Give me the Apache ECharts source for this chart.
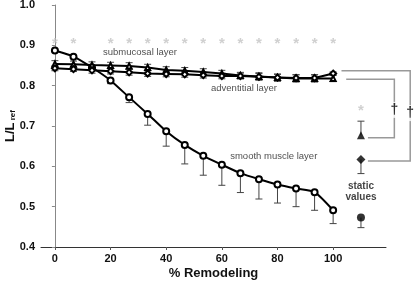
<!DOCTYPE html>
<html><head><meta charset="utf-8">
<script src="https://cdn.jsdelivr.net/npm/echarts@6/dist/echarts.min.js"></script>
<style>html,body{margin:0;padding:0;background:#fff}#c{width:414px;height:281px}</style>
</head><body><div id="c"></div>
<script>
// ---- data ----
const remodeling = [0, 6.67, 13.33, 20, 26.67, 33.33, 40, 46.67, 53.33, 60, 66.67, 73.33, 80, 86.67, 93.33, 100];
const smoothMuscle = [0.887, 0.872, 0.845, 0.813, 0.771, 0.730, 0.687, 0.653, 0.626, 0.604, 0.583, 0.568, 0.555, 0.545, 0.536, 0.491];
const smoothMuscleLow = [0.884, 0.869, 0.839, 0.805, 0.758, 0.702, 0.650, 0.606, 0.578, 0.553, 0.535, 0.519, 0.509, 0.500, 0.491, 0.458];
const submucosal = [0.854, 0.853, 0.851, 0.850, 0.849, 0.845, 0.839, 0.837, 0.834, 0.830, 0.825, 0.823, 0.820, 0.818, 0.818, 0.818];
const submucosalErr = [0.008, 0.008, 0.008, 0.008, 0.008, 0.008, 0.008, 0.008, 0.008, 0.008, 0.008, 0.009, 0.009, 0.009, 0.009, 0.008];
const adventitial = [0.843, 0.841, 0.838, 0.836, 0.833, 0.830, 0.829, 0.828, 0.826, 0.824, 0.824, 0.822, 0.820, 0.819, 0.819, 0.830];
const adventitialErr = [0.006, 0.006, 0.007, 0.007, 0.007, 0.007, 0.007, 0.007, 0.007, 0.007, 0.007, 0.008, 0.008, 0.008, 0.008, 0.004];
const starX = [0, 6.67, 20, 26.67, 33.33, 40, 46.67, 53.33, 60, 66.67, 73.33, 80, 86.67, 93.33, 100];
const starY = 0.913;
const staticX = 110;
const staticStarY = 0.747;
const staticTriangle = 0.677, staticTriangleHigh = 0.712;
const staticDiamond = 0.617, staticDiamondLow = 0.582;
const staticCircle = 0.473, staticCircleLow = 0.448;
const bracketOuter = [[103, 0.837], [127.7, 0.837], [127.7, 0.613], [112.5, 0.613]];
const bracketInner = [[104.7, 0.816], [122, 0.816], [122, 0.671], [112.5, 0.671]];
const daggers = [[122, 0.740], [127.7, 0.732]];
const xTicks = [0, 20, 40, 60, 80, 100];

const pair = (xs, ys) => xs.map((x, i) => [x, ys[i]]);

function errRender(capW) {
  return function (params, api) {
    const x = api.value(0), lo = api.value(1), hi = api.value(2);
    const pLo = api.coord([x, lo]), pHi = api.coord([x, hi]);
    const st = { stroke: '#444', lineWidth: 1 };
    const ch = [{ type: 'line', shape: { x1: pLo[0], y1: pLo[1], x2: pHi[0], y2: pHi[1] }, style: st }];
    if (api.value(3) & 1) ch.push({ type: 'line', shape: { x1: pLo[0] - capW, y1: pLo[1], x2: pLo[0] + capW, y2: pLo[1] }, style: st });
    if (api.value(3) & 2) ch.push({ type: 'line', shape: { x1: pHi[0] - capW, y1: pHi[1], x2: pHi[0] + capW, y2: pHi[1] }, style: st });
    return { type: 'group', children: ch };
  };
}

const brackets = [bracketOuter, bracketInner];
function bracketRender(params, api) {
  const pts = brackets[params.dataIndex].map(p => api.coord(p));
  return { type: 'polyline', shape: { points: pts }, style: { stroke: '#999', lineWidth: 1.5, fill: null } };
}

const chart = echarts.init(document.getElementById('c'), null, { renderer: 'canvas' });
const font = 'Liberation Sans, Arial, sans-serif';
chart.setOption({
  animation: false,
  textStyle: { fontFamily: font },
  grid: { left: 41, right: 28, top: 5, bottom: 34, containLabel: false, outerBoundsMode: 'none' },
  xAxis: {
    type: 'value', min: -5, max: 119,
    axisLine: { lineStyle: { color: '#333', width: 1 } },
    axisTick: { show: true, length: 3, customValues: xTicks, lineStyle: { color: '#555' } },
    axisLabel: { customValues: xTicks, color: '#111', fontWeight: 'bold', fontSize: 11, margin: 6, fontFamily: font },
    splitLine: { show: false },
    name: '% Remodeling', nameLocation: 'middle', nameGap: 20, nameMoveOverlap: false,
    nameTextStyle: { fontWeight: 'bold', fontSize: 13, color: '#111', fontFamily: font }
  },
  yAxis: {
    type: 'value', min: 0.4, max: 1.0, interval: 0.1,
    axisLine: { show: true, lineStyle: { color: '#888', width: 1 } },
    axisTick: { show: true, length: 3, lineStyle: { color: '#888' } },
    axisLabel: { color: '#111', fontWeight: 'bold', fontSize: 11, margin: 6, formatter: v => v.toFixed(1), fontFamily: font },
    splitLine: { show: false },
    name: '{a|L/L}{b| ref}', nameLocation: 'middle', nameGap: 24, nameRotate: 90, nameMoveOverlap: false,
    nameTextStyle: {
      rich: {
        a: { fontWeight: 'bold', fontSize: 13, color: '#111', fontFamily: font },
        b: { fontWeight: 'bold', fontSize: 8, color: '#111', fontFamily: font, padding: [6, 0, 0, 0] }
      }
    }
  },
  series: [
    { type: 'custom', renderItem: errRender(3.5), clip: false, z: 1,
      data: remodeling.map((x, i) => [x, smoothMuscleLow[i], smoothMuscle[i], 1]) },
    { type: 'custom', renderItem: errRender(3.5), clip: false, z: 1,
      data: remodeling.map((x, i) => [x, submucosal[i] - submucosalErr[i], submucosal[i] + submucosalErr[i], 3]) },
    { type: 'custom', renderItem: errRender(3.5), clip: false, z: 1,
      data: remodeling.map((x, i) => [x, adventitial[i] - adventitialErr[i], adventitial[i] + adventitialErr[i], 3]) },
    { type: 'custom', renderItem: errRender(3.5), clip: false, z: 1,
      data: [[staticX, staticTriangle, staticTriangleHigh, 2], [staticX, staticDiamondLow, staticDiamond, 1], [staticX, staticCircleLow, staticCircle, 1]] },
    { name: 'smooth muscle layer', type: 'line', data: pair(remodeling, smoothMuscle), smooth: 0.2,
      symbol: 'emptyCircle', symbolSize: 6, lineStyle: { color: '#000', width: 2 }, itemStyle: { color: '#000', borderWidth: 1 }, z: 3 },
    { name: 'submucosal layer', type: 'line', data: pair(remodeling, submucosal),
      symbol: 'emptyTriangle', symbolSize: 5, lineStyle: { color: '#000', width: 2 }, itemStyle: { color: '#000', borderWidth: 1 }, z: 3 },
    { name: 'adventitial layer', type: 'line', data: pair(remodeling, adventitial),
      symbol: 'emptyDiamond', symbolSize: 6, lineStyle: { color: '#000', width: 2 }, itemStyle: { color: '#000', borderWidth: 1 }, z: 3 },
    { type: 'scatter', clip: false, symbolSize: 0,
      data: starX.map(x => [x, starY]).concat([[staticX, staticStarY]]),
      label: { show: true, position: 'inside', formatter: '*', color: '#c4c4c4', fontSize: 15, fontWeight: 'bold', offset: [0, 4] } },
    { type: 'scatter', clip: false, symbol: 'triangle', symbolSize: 8, itemStyle: { color: '#000' }, data: [[staticX, staticTriangle]], z: 4 },
    { type: 'scatter', clip: false, symbol: 'diamond', symbolSize: 9, itemStyle: { color: '#000' }, data: [[staticX, staticDiamond]], z: 4 },
    { type: 'scatter', clip: false, symbol: 'circle', symbolSize: 8, itemStyle: { color: '#000' }, data: [[staticX, staticCircle]], z: 4 },
    { type: 'custom', renderItem: bracketRender, clip: false, z: 1, data: [[0], [1]] },
    { type: 'scatter', clip: false, symbolSize: 0, data: daggers, z: 5,
      label: { show: true, position: 'inside', formatter: '†', color: '#000', fontSize: 14, fontWeight: 'bold', backgroundColor: '#fff', padding: [1, 0] } },
    { type: 'scatter', clip: false, symbolSize: 0, z: 5,
      data: [
        { value: [17.3, 0.883], label: { formatter: 'submucosal layer' } },
        { value: [56.1, 0.793], label: { formatter: 'adventitial layer' } },
        { value: [63, 0.624], label: { formatter: 'smooth muscle layer' } }
      ],
      label: { show: true, position: 'right', distance: 0, color: '#222', fontSize: 9.5, fontFamily: font } },
    { type: 'scatter', clip: false, symbolSize: 0, z: 5,
      data: [{ value: [110, 0.538] }],
      label: { show: true, position: 'inside', formatter: 'static\nvalues', color: '#111', fontSize: 10, fontWeight: 'bold', lineHeight: 11, align: 'center', fontFamily: font } }
  ]
});
</script></body></html>
